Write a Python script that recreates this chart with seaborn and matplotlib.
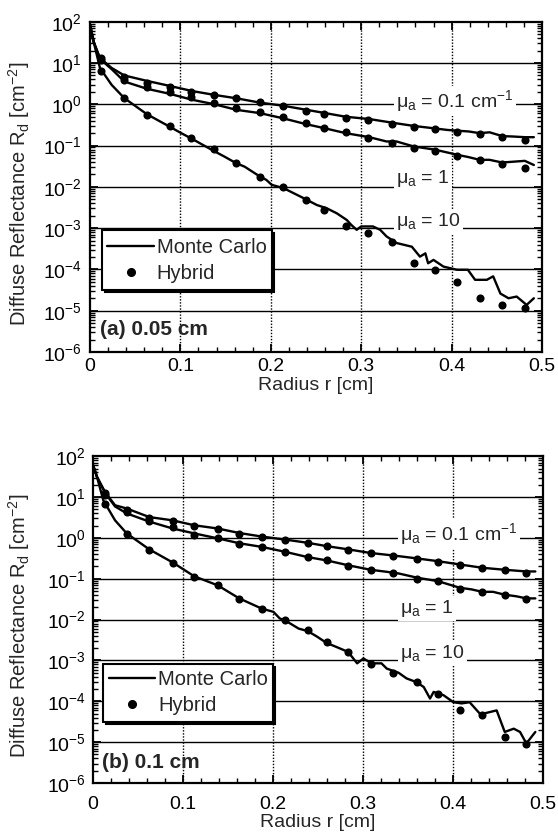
import numpy as np
import pandas as pd
import matplotlib
matplotlib.use("Agg")
import matplotlib.pyplot as plt
from matplotlib.lines import Line2D
from matplotlib.patches import Rectangle
from matplotlib import transforms
from matplotlib.ticker import MultipleLocator, LogLocator, FixedLocator, NullFormatter
import seaborn as sns

# ---------------- data ----------------
# panel (a) 0.05 cm
a_r_hyb = [0.012, 0.038, 0.063, 0.088, 0.112, 0.137, 0.162, 0.188, 0.213, 0.239,
           0.259, 0.283, 0.308, 0.334, 0.358, 0.382, 0.406, 0.431, 0.456, 0.481]
a_hyb_01 = [13.2, 4.72, 3.38, 2.61, 2.04, 1.70, 1.41, 1.11, 0.935, 0.708,
            0.589, 0.479, 0.421, 0.337, 0.290, 0.251, 0.219, 0.190, 0.160, 0.138]
a_hyb_1 = [12.0, 3.93, 2.70, 2.04, 1.50, 1.07, 0.836, 0.647, 0.489, 0.350,
           0.265, 0.212, 0.152, 0.115, 0.0896, 0.0746, 0.0564, 0.0452, 0.0355, 0.0284]
a_hyb_10 = [6.49, 1.41, 0.556, 0.301, 0.152, 0.0834, 0.0388, 0.0178, 0.00984, 0.00484,
            0.00277, 0.00115, 0.000754, 0.000456, 0.000141, 9.7e-5, 5.06e-5, 2.0e-5, 1.38e-5, 1.15e-5]

a_r_mc_01 = [0, 0.004, 0.011, 0.024, 0.038, 0.063, 0.088, 0.113, 0.137, 0.162, 0.188, 0.213,
             0.239, 0.259, 0.283, 0.309, 0.334, 0.358, 0.382, 0.395, 0.406, 0.419, 0.431,
             0.442, 0.456, 0.468, 0.481, 0.491]
a_mc_01 = [85, 33, 13.2, 7.6, 5.0, 3.7, 2.8, 2.1, 1.7, 1.4, 1.1, 0.93,
           0.74, 0.62, 0.50, 0.44, 0.36, 0.30, 0.26, 0.24, 0.23, 0.22, 0.20,
           0.21, 0.17, 0.166, 0.16, 0.16]
a_r_mc_1 = [0, 0.004, 0.011, 0.024, 0.038, 0.063, 0.088, 0.113, 0.137, 0.162, 0.188, 0.213,
            0.239, 0.259, 0.283, 0.309, 0.328, 0.339, 0.358, 0.382, 0.398, 0.406, 0.419,
            0.431, 0.442, 0.456, 0.468, 0.481, 0.491]
a_mc_1 = [85, 33, 12.6, 7.1, 3.57, 2.38, 1.80, 1.29, 1.01, 0.736, 0.612, 0.462,
          0.331, 0.265, 0.20, 0.16, 0.126, 0.126, 0.0955, 0.0794, 0.066, 0.060, 0.0525,
          0.0452, 0.0452, 0.0389, 0.0407, 0.0427, 0.0339]
a_r_mc_10 = [0, 0.004, 0.011, 0.024, 0.038, 0.063, 0.088, 0.101, 0.113, 0.137, 0.149, 0.162,
             0.171, 0.188, 0.195, 0.201, 0.214, 0.236, 0.251, 0.262, 0.273, 0.284, 0.289,
             0.295, 0.300, 0.313, 0.321, 0.328, 0.339, 0.356, 0.365, 0.371, 0.374, 0.380,
             0.391, 0.406, 0.418, 0.426, 0.439, 0.446, 0.454, 0.463, 0.472, 0.483, 0.491]
a_mc_10 = [85, 33, 7.59, 2.95, 1.41, 0.575, 0.288, 0.200, 0.145, 0.0741, 0.0537, 0.0372,
           0.0309, 0.0178, 0.0148, 0.0112, 0.00933, 0.00537, 0.00363, 0.00302, 0.00229, 0.00158, 0.00120,
           0.000912, 0.0011, 0.0011, 0.000912, 0.000631, 0.000437, 0.000355, 0.000204, 0.000245, 0.000141, 0.00017,
           0.000117, 9.8e-5, 9.8e-5, 5.6e-5, 5.6e-5, 6.8e-5, 2.6e-5, 2.0e-5, 2.2e-5, 1.38e-5, 2.0e-5]

# panel (b) 0.1 cm
b_r_hyb = [0.014, 0.038, 0.063, 0.089, 0.113, 0.139, 0.163, 0.188, 0.214, 0.239,
           0.260, 0.284, 0.309, 0.334, 0.360, 0.384, 0.408, 0.433, 0.458, 0.482]
b_hyb_01 = [12.6, 4.96, 3.09, 2.56, 1.93, 1.63, 1.28, 1.06, 0.88, 0.73,
            0.627, 0.50, 0.43, 0.362, 0.313, 0.258, 0.223, 0.185, 0.162, 0.139]
b_hyb_1 = [11.1, 4.33, 2.56, 1.86, 1.21, 1.0, 0.70, 0.60, 0.454, 0.343,
           0.285, 0.203, 0.162, 0.139, 0.101, 0.0871, 0.0555, 0.0477, 0.0411, 0.0328]
b_hyb_10 = [6.95, 1.28, 0.52, 0.25, 0.111, 0.0695, 0.0316, 0.0187, 0.00967, 0.0055,
            0.00285, 0.00162, 0.00084, 0.000495, 0.000298, 0.000155, 6.0e-5, 4.75e-5, 1.34e-5, 9.2e-6]

b_r_mc_01 = [0, 0.005, 0.014, 0.025, 0.038, 0.063, 0.089, 0.113, 0.139, 0.163, 0.188, 0.214,
             0.239, 0.260, 0.284, 0.309, 0.334, 0.360, 0.384, 0.408, 0.433, 0.458, 0.482, 0.492]
b_mc_01 = [66, 31, 13.2, 6.3, 5.25, 3.24, 2.69, 2.04, 1.70, 1.32, 1.08, 0.91,
           0.76, 0.63, 0.525, 0.427, 0.372, 0.316, 0.269, 0.224, 0.186, 0.166, 0.151, 0.151]
b_r_mc_1 = [0, 0.005, 0.014, 0.025, 0.038, 0.063, 0.089, 0.113, 0.139, 0.163, 0.188, 0.214,
            0.239, 0.260, 0.284, 0.309, 0.327, 0.340, 0.360, 0.384, 0.408, 0.421, 0.433,
            0.445, 0.458, 0.471, 0.482, 0.492]
b_mc_1 = [66, 31, 12.6, 5.9, 3.98, 2.51, 1.70, 1.29, 0.977, 0.741, 0.603, 0.457,
          0.339, 0.282, 0.214, 0.166, 0.148, 0.135, 0.107, 0.0871, 0.0603, 0.055, 0.0479,
          0.0479, 0.0407, 0.0372, 0.0331, 0.0331]
b_r_mc_10 = [0, 0.005, 0.012, 0.025, 0.038, 0.063, 0.089, 0.113, 0.139, 0.163, 0.188, 0.201,
             0.208, 0.214, 0.229, 0.239, 0.249, 0.260, 0.271, 0.284, 0.294, 0.301, 0.310,
             0.321, 0.327, 0.340, 0.349, 0.360, 0.368, 0.375, 0.379, 0.390, 0.401, 0.410,
             0.419, 0.431, 0.442, 0.449, 0.458, 0.468, 0.475, 0.482, 0.492]
b_mc_10 = [66, 31, 8.3, 2.7, 1.29, 0.525, 0.251, 0.115, 0.0692, 0.0331, 0.0186, 0.0155,
           0.0107, 0.00955, 0.00603, 0.00525, 0.00389, 0.00269, 0.00214, 0.00162, 0.000851, 0.00112, 0.000851,
           0.000851, 0.000631, 0.000501, 0.000363, 0.000295, 0.000224, 0.000117, 0.00017, 0.000141, 9.5e-5, 8.9e-5,
           9.5e-5, 4.8e-5, 5.5e-5, 6.0e-5, 1.78e-5, 2.14e-5, 1.78e-5, 9.3e-6, 1.78e-5]

x_ticks = [0, 0.1, 0.2, 0.3, 0.4, 0.5]
x_tick_labels = ["0", "0.1", "0.2", "0.3", "0.4", "0.5"]
y_ticks = [1e-6, 1e-5, 1e-4, 1e-3, 1e-2, 1e-1, 1e0, 1e1, 1e2]
y_tick_labels = [r"$10^{-6}$", r"$10^{-5}$", r"$10^{-4}$", r"$10^{-3}$", r"$10^{-2}$",
                 r"$10^{-1}$", r"$10^{0}$", r"$10^{1}$", r"$10^{2}$"]
annot_texts = ["\u03bc$_\\mathrm{a}$ = 0.1 cm$^{-1}$", "\u03bc$_\\mathrm{a}$ = 1", "\u03bc$_\\mathrm{a}$ = 10"]
panel_labels = ["(a) 0.05 cm", "(b) 0.1 cm"]
legend_labels = ["Monte Carlo", "Hybrid"]

# ---------------- style ----------------
sns.set_style("ticks")
plt.rcParams["font.family"] = ["Liberation Sans", "DejaVu Sans"]
plt.rcParams["mathtext.fontset"] = "custom"
plt.rcParams["mathtext.rm"] = "Liberation Sans"
plt.rcParams["mathtext.it"] = "Liberation Sans:italic"
plt.rcParams["mathtext.bf"] = "Liberation Sans:bold"

fig = plt.figure(figsize=(5.58, 8.38), dpi=100)
ax_a = fig.add_axes([0.1613, 0.580, 0.810, 0.394])
ax_b = fig.add_axes([0.1658, 0.0656, 0.8065, 0.390])

panels = [
    dict(ax=ax_a, r_hyb=a_r_hyb, hyb=[a_hyb_01, a_hyb_1, a_hyb_10],
         mc=[(a_r_mc_01, a_mc_01), (a_r_mc_1, a_mc_1), (a_r_mc_10, a_mc_10)],
         ann_x=0.339, ann_y=[0.87, 0.0126, 0.00112], label=panel_labels[0],
         label_xy=(0.022, 0.067), box=(0.027, 0.188, 0.402, 0.368), xpad=4.5, ypad=6,
         ylab_x=-0.128),
    dict(ax=ax_b, r_hyb=b_r_hyb, hyb=[b_hyb_01, b_hyb_1, b_hyb_10],
         mc=[(b_r_mc_01, b_mc_01), (b_r_mc_1, b_mc_1), (b_r_mc_10, b_mc_10)],
         ann_x=0.342, ann_y=[0.88, 0.0145, 0.00115], label=panel_labels[1],
         label_xy=(0.020, 0.062), box=(0.024, 0.1875, 0.401, 0.364), xpad=9, ypad=5,
         ylab_x=-0.134),
]

for p in panels:
    ax = p["ax"]
    ax.set_yscale("log")
    ax.set_xlim(0, 0.5)
    ax.set_ylim(1e-6, 1e2)
    # grid
    for yv in y_ticks[1:-1]:
        ax.axhline(yv, color="black", lw=1.0, zorder=0.5)
    for xv in x_ticks[1:-1]:
        ax.axvline(xv, color="black", lw=1.0, ls=(0, (1, 1.2)), zorder=0.5)
    for (rr, vv) in p["mc"]:
        df = pd.DataFrame({"r": rr, "Rd": vv})
        sns.lineplot(data=df, x="r", y="Rd", ax=ax, color="black", lw=1.7,
                     legend=False, zorder=3, estimator=None, sort=False)
    for vv in p["hyb"]:
        df = pd.DataFrame({"r": p["r_hyb"], "Rd": vv})
        sns.scatterplot(data=df, x="r", y="Rd", ax=ax, color="black", s=34,
                        edgecolor="black", linewidth=0, legend=False, zorder=4)
    # ticks
    ax.xaxis.set_major_locator(FixedLocator(x_ticks))
    ax.set_xticklabels(x_tick_labels)
    ax.xaxis.set_minor_locator(MultipleLocator(0.02))
    ax.yaxis.set_major_locator(FixedLocator(y_ticks))
    ax.set_yticklabels(y_tick_labels)
    ax.yaxis.set_minor_locator(LogLocator(base=10, subs=np.arange(2, 10), numticks=20))
    ax.yaxis.set_minor_formatter(NullFormatter())
    ax.tick_params(which="both", direction="in", top=True, right=True, colors="black")
    ax.tick_params(which="major", length=6, width=1.3, labelsize=14)
    ax.tick_params(axis="x", which="major", pad=p["xpad"])
    ax.tick_params(axis="y", which="major", pad=p["ypad"])
    ax.tick_params(which="minor", length=3.5, width=1.0)
    for s in ax.spines.values():
        s.set_linewidth(1.6)
        s.set_color("black")
    ax.set_xlabel("Radius r [cm]", fontsize=14, labelpad=1)
    ax.set_ylabel("Diffuse Reflectance R$_\\mathrm{d}$ [cm$^{-2}$]", fontsize=14.5, labelpad=4)
    ax.yaxis.set_label_coords(p["ylab_x"], 0.48)
    # annotations
    for txt, yv in zip(annot_texts, p["ann_y"]):
        ax.text(p["ann_x"], yv, txt, fontsize=14, ha="left", va="baseline", zorder=2,
                bbox=dict(facecolor="white", edgecolor="none", pad=1.5))
    ax.text(p["label_xy"][0], p["label_xy"][1], p["label"], transform=ax.transAxes,
            fontsize=15, fontweight="bold", ha="left", va="center", zorder=5)
    # legend box with drop shadow
    x0, y0, x1, y1 = p["box"]
    shadow_tr = transforms.offset_copy(ax.transAxes, fig=fig, x=2.5, y=-2.5, units="dots")
    ax.add_patch(Rectangle((x0, y0), x1 - x0, y1 - y0, transform=shadow_tr,
                           facecolor="black", edgecolor="black", lw=1.5, zorder=6))
    ax.add_patch(Rectangle((x0, y0), x1 - x0, y1 - y0, transform=ax.transAxes,
                           facecolor="white", edgecolor="black", lw=1.5, zorder=6.1))
    handles = [Line2D([0], [0], color="black", lw=1.7, label=legend_labels[0]),
               Line2D([0], [0], color="black", lw=0, marker="o", markersize=5.5,
                      label=legend_labels[1])]
    leg = ax.legend(handles=handles, loc="center",
                    bbox_to_anchor=((x0 + x1) / 2, (y0 + y1) / 2),
                    fontsize=14.5, frameon=False, handlelength=2.3, handletextpad=0.15,
                    borderpad=0, labelspacing=0.35, borderaxespad=0)
    leg.set_zorder(7)

fig.savefig("out.png", dpi=100)
